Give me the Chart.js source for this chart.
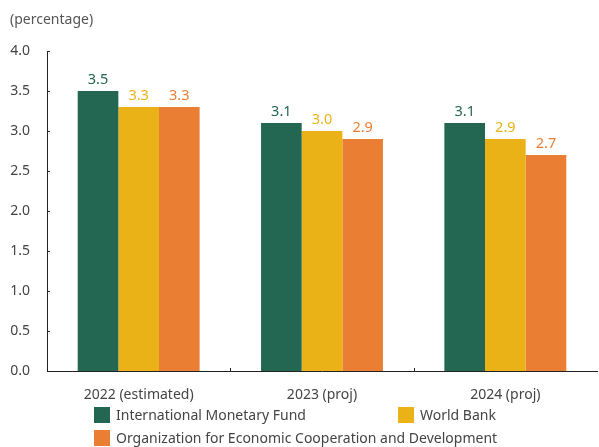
<!DOCTYPE html>
<html>
<head>
<meta charset="utf-8">
<script src="https://cdn.jsdelivr.net/npm/chart.js@4"></script>
<style>
  html, body { margin: 0; padding: 0; background: #fff; }
  #wrap { position: relative; width: 599px; height: 447px; font-family: "Noto Sans", sans-serif; color: #444; }
  #unit { position: absolute; left: 10px; top: 9px; font-size: 14px; color: #555; }
  .leg { position: absolute; font-size: 14px; color: #444; display: flex; align-items: center; white-space: nowrap; }
  .leg span.box { display: inline-block; width: 16px; height: 16px; margin-right: 6px; }
</style>
</head>
<body>
<div id="wrap">
  <canvas id="growth" width="599" height="447"></canvas>
  <div id="unit">(percentage)</div>
  <div id="legend"></div>
</div>
<script>
// growth forecasts by institution
const categories = ['2022 (estimated)', '2023 (proj)', '2024 (proj)'];
const imfValues = [3.5, 3.1, 3.1];
const worldBankValues = [3.3, 3.0, 2.9];
const oecdValues = [3.3, 2.9, 2.7];
const seriesNames = ['International Monetary Fund', 'World Bank', 'Organization for Economic Cooperation and Development'];
const seriesColors = ['#236651', '#EBB217', '#EA7F33'];
const yTicks = [0, 0.5, 1, 1.5, 2, 2.5, 3, 3.5, 4];

// value labels above each bar, in the series colour
const barLabels = {
    id: 'barLabels',
    afterDatasetsDraw(chart) {
        const ctx = chart.ctx;
        ctx.save();
        ctx.font = '14.5px "Noto Sans", sans-serif';
        ctx.textAlign = 'center';
        ctx.textBaseline = 'bottom';
        chart.data.datasets.forEach((ds, i) => {
            chart.getDatasetMeta(i).data.forEach((bar, j) => {
                ctx.fillStyle = ds.backgroundColor;
                ctx.fillText(ds.data[j].toFixed(1), bar.x, bar.y - 4);
            });
        });
        ctx.restore();
    }
};

// short inward ticks on both axes
const innerTicks = {
    id: 'innerTicks',
    afterDraw(chart) {
        const ctx = chart.ctx;
        const x = chart.scales.x, y = chart.scales.y;
        ctx.save();
        ctx.strokeStyle = '#222';
        ctx.lineWidth = 1;
        ctx.beginPath();
        yTicks.forEach(v => {
            const py = Math.round(y.getPixelForValue(v)) + 0.5;
            ctx.moveTo(x.left, py);
            ctx.lineTo(x.left + 3, py);
        });
        for (let i = 0; i < categories.length - 1; i++) {
            const px = Math.round((x.getPixelForValue(i) + x.getPixelForValue(i + 1)) / 2) + 0.5;
            ctx.moveTo(px, y.bottom);
            ctx.lineTo(px, y.bottom - 3);
        }
        ctx.stroke();
        ctx.restore();
    }
};

const datasets = [imfValues, worldBankValues, oecdValues].map((vals, i) => ({
    label: seriesNames[i],
    data: vals,
    backgroundColor: seriesColors[i],
    borderWidth: 0,
    barPercentage: 1,
    categoryPercentage: 0.665
}));

new Chart(document.getElementById('growth'), {
    type: 'bar',
    data: { labels: categories, datasets: datasets },
    options: {
        responsive: false,
        animation: false,
        layout: { padding: { top: 51, right: 2, left: 0, bottom: 0 } },
        plugins: {
            legend: { display: false },
            tooltip: { enabled: false }
        },
        scales: {
            x: {
                grid: { display: false },
                border: { color: '#222', width: 1 },
                ticks: { color: '#444', font: { family: 'Noto Sans', size: 14 }, padding: 8 },
                afterFit(scale) { scale.height = 76; }
            },
            y: {
                min: 0,
                max: 4,
                grid: { display: false, drawTicks: false },
                border: { color: '#222', width: 1 },
                ticks: {
                    stepSize: 0.5,
                    color: '#444',
                    padding: 17,
                    font: { family: 'Noto Sans', size: 14 },
                    callback: v => v.toFixed(1)
                },
                afterFit(scale) { scale.width = 47; }
            }
        }
    },
    plugins: [barLabels, innerTicks]
});

// two-column legend beneath the axis
const legendSpots = [[94, 405], [398, 405], [94, 428]];
const legend = document.getElementById('legend');
seriesNames.forEach((name, i) => {
    const item = document.createElement('div');
    item.className = 'leg';
    item.style.left = legendSpots[i][0] + 'px';
    item.style.top = legendSpots[i][1] + 'px';
    item.innerHTML = '<span class="box" style="background:' + seriesColors[i] + '"></span>' + name;
    legend.appendChild(item);
});
</script>
</body>
</html>
